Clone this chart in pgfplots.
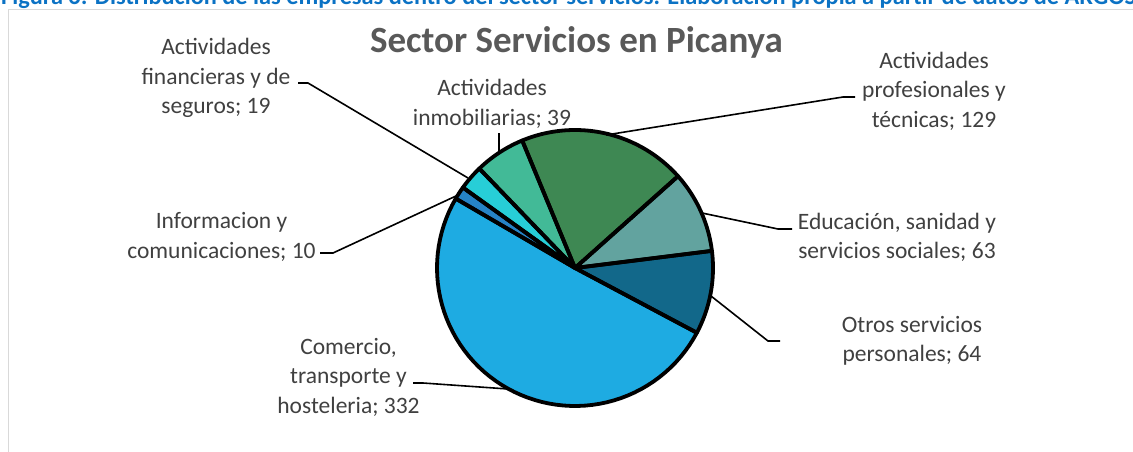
\documentclass[border=0pt]{standalone}
\usepackage{pgfplots}
\pgfplotsset{compat=1.18}
\usepackage{pgfplotstable}
\usepackage{fontspec}
\setmainfont{Carlito}
\definecolor{cComercio}{HTML}{1EABE2}
\definecolor{cInfo}{HTML}{2683C6}
\definecolor{cFin}{HTML}{27CED7}
\definecolor{cInmob}{HTML}{42BA97}
\definecolor{cProf}{HTML}{3E8853}
\definecolor{cEduc}{HTML}{62A39F}
\definecolor{cOtros}{HTML}{12688A}
\definecolor{labelgray}{HTML}{404040}
\definecolor{titlegray}{HTML}{595959}
\definecolor{capblue}{HTML}{0B72C4}
\definecolor{framegray}{HTML}{D9D9D9}

\pgfplotstableread{
sector value
Comercio 332
Informacion 10
Financieras 19
Inmobiliarias 39
Profesionales 129
Educacion 63
Otros 64
}\piedata

\newcommand\getv[2]{\pgfplotstablegetelem{#1}{value}\of\piedata\edef#2{\pgfplotsretval}}
\newcommand\slice[3]{%
\addplot[#3, mark=none, line join=round, variable=\t, samples at={-1,0,1,...,60,61}]
 ({138*(1-(\t<0)-(\t>60))*cos((#1)+((#2)-(#1))*(min(max(\t,0),60)/60))},
  {138*(1-(\t<0)-(\t>60))*sin((#1)+((#2)-(#1))*(min(max(\t,0),60)/60))});}

\tikzset{lbl/.style={font=\fontsize{23.5}{29.5}\selectfont, text=labelgray, align=center, inner sep=0pt, anchor=center}}

\begin{document}
\begin{tikzpicture}
\getv{0}\vA \getv{1}\vB \getv{2}\vC \getv{3}\vD \getv{4}\vE \getv{5}\vF \getv{6}\vG
\pgfmathsetmacro\tot{\vA+\vB+\vC+\vD+\vE+\vF+\vG}
\pgfmathsetmacro\aA{-28}
\pgfmathsetmacro\aB{\aA-360*(\vA/\tot)}
\pgfmathsetmacro\aC{\aB-360*(\vB/\tot)}
\pgfmathsetmacro\aD{\aC-360*(\vC/\tot)}
\pgfmathsetmacro\aE{\aD-360*(\vD/\tot)}
\pgfmathsetmacro\aF{\aE-360*(\vE/\tot)}
\pgfmathsetmacro\aG{\aF-360*(\vF/\tot)}
\pgfmathsetmacro\aH{\aG-360*(\vG/\tot)}
\useasboundingbox (0,0) rectangle (1133pt,451pt);
\draw[framegray, line width=1.2pt] (8.5pt,-10pt) -- (8.5pt,441.5pt) -- (1145pt,441.5pt);
\begin{axis}[at={(0,0)}, anchor=south west, x=1pt, y=1pt, xmin=-575, xmax=558, ymin=-183, ymax=268,
  hide axis, scale only axis, clip=false]
% fills
\slice{\aA}{\aB}{fill=cComercio, draw=none}
\slice{\aB}{\aC}{fill=cInfo, draw=none}
\slice{\aC}{\aD}{fill=cFin, draw=none}
\slice{\aD}{\aE}{fill=cInmob, draw=none}
\slice{\aE}{\aF}{fill=cProf, draw=none}
\slice{\aF}{\aG}{fill=cEduc, draw=none}
\slice{\aG}{\aH}{fill=cOtros, draw=none}
% leader lines
\addplot[black, line width=1.6pt, mark=none] coordinates {(-277,185) (-267,185) (-107,90)};
\addplot[black, line width=1.6pt, mark=none] coordinates {(-76,135) (-76,115)};
\addplot[black, line width=1.6pt, mark=none] coordinates {(280,171) (268,171) (31,133)};
\addplot[black, line width=1.6pt, mark=none] coordinates {(217,39) (203,39) (127,55)};
\addplot[black, line width=1.6pt, mark=none] coordinates {(205,-73) (193,-73) (136,-28)};
\addplot[black, line width=1.6pt, mark=none] coordinates {(-255,15) (-242,15) (-119,72)};
\addplot[black, line width=1.6pt, mark=none] coordinates {(-162,-115) (-152,-115) (-67,-121)};
% strokes
\slice{\aA}{\aB}{draw=black, line width=3.8pt}
\slice{\aB}{\aC}{draw=black, line width=3.8pt}
\slice{\aC}{\aD}{draw=black, line width=3.8pt}
\slice{\aD}{\aE}{draw=black, line width=3.8pt}
\slice{\aE}{\aF}{draw=black, line width=3.8pt}
\slice{\aF}{\aG}{draw=black, line width=3.8pt}
\slice{\aG}{\aH}{draw=black, line width=3.8pt}
% labels
\node[lbl] at (axis cs:-359,190) {Actividades\\financieras y de\\seguros; 19};
\node[lbl] at (axis cs:-83,164) {Actividades\\inmobiliarias; 39};
\node[lbl] at (axis cs:359,177) {Actividades\\profesionales y\\técnicas; 129};
\node[lbl] at (axis cs:322,30.7) {Educación, sanidad y\\servicios sociales; 63};
\node[lbl] at (axis cs:337,-72.8) {Otros servicios\\personales; 64};
\node[lbl] at (axis cs:-353.5,31.3) {Informacion y\\comunicaciones; 10};
\node[lbl] at (axis cs:-226.5,-109.4) {Comercio,\\transporte y\\hosteleria; 332};
% title
\node[anchor=base, inner sep=0pt, font=\bfseries\fontsize{37}{44}\selectfont, text=titlegray] at (axis cs:1.5,216) {Sector Servicios en Picanya};
% caption (cut by the page edge, as in the reference)
\node[anchor=base west, inner sep=0pt, font=\bfseries\fontsize{24.3}{29}\selectfont, text=capblue] at (axis cs:-574,263) {Figura 6: Distribución de las empresas dentro del sector servicios. Elaboración propia a partir de datos de ARGOS};
\end{axis}
\end{tikzpicture}
\end{document}
